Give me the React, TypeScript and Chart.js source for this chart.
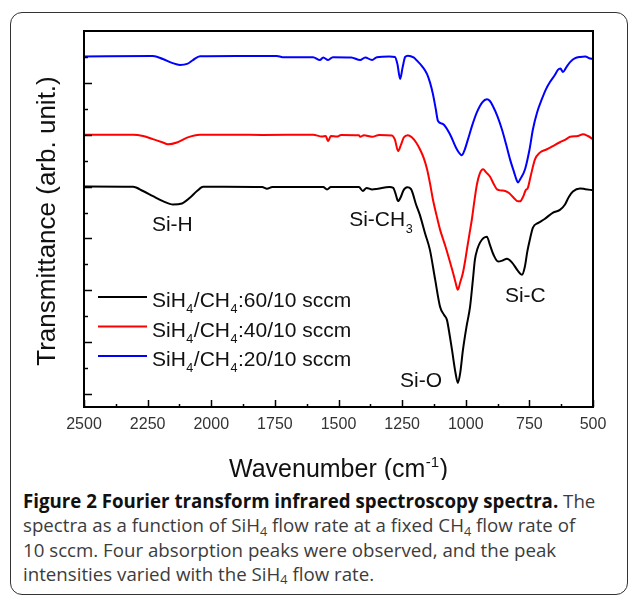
import React, { useEffect, useRef } from "react";
import { Chart, registerables } from "chart.js";

Chart.register(...registerables);

// ---------- data (wavenumber in cm^-1, transmittance in arb. units, offset per curve) ----------
const wnBlack = [2500, 2307, 2268, 2229, 2190, 2150, 2115, 2084, 2056, 2032, 1950, 1800, 1781, 1760, 1560, 1545, 1530, 1420, 1404, 1390, 1368, 1345, 1300, 1285, 1275, 1266, 1255, 1245, 1230, 1215, 1195, 1180, 1160, 1141, 1120, 1101, 1085, 1074, 1062, 1054, 1040, 1031, 1022, 1011, 997, 983, 972, 964, 954, 944, 930, 917, 905, 890, 873, 855, 838, 818, 795, 779, 768, 758, 748, 736, 715, 690, 657, 630, 610, 595, 579, 551, 530, 500];
const tBlack = [8.0, 7.99, 7.83, 7.63, 7.44, 7.31, 7.35, 7.57, 7.83, 7.99, 7.99, 7.98, 7.92, 7.98, 7.98, 7.89, 7.98, 7.98, 7.83, 7.95, 7.89, 7.92, 7.98, 7.95, 7.7, 7.44, 7.6, 7.85, 7.97, 7.9, 7.3, 6.9, 6.2, 5.57, 4.4, 3.37, 3.05, 2.86, 2.2, 1.7, 0.8, 0.43, 0.8, 1.7, 2.6, 3.37, 4.4, 5.18, 5.6, 5.84, 6.02, 6.07, 5.75, 5.35, 5.11, 5.15, 5.22, 5.07, 4.75, 4.6, 4.9, 5.5, 5.96, 6.42, 6.6, 6.75, 7.0, 7.1, 7.31, 7.6, 7.81, 7.93, 7.9, 7.86];

const wnRed = [2500, 2400, 2307, 2268, 2229, 2190, 2170, 2135, 2095, 2044, 1900, 1800, 1600, 1565, 1550, 1541, 1530, 1506, 1490, 1420, 1415, 1400, 1368, 1340, 1290, 1278, 1266, 1255, 1243, 1228, 1212, 1195, 1180, 1165, 1152, 1140, 1129, 1115, 1101, 1090, 1080, 1065, 1050, 1040, 1031, 1022, 1011, 1003, 995, 985, 976, 966, 956, 945, 932, 920, 905, 890, 877, 860, 845, 830, 810, 795, 787, 775, 765, 756, 745, 728, 710, 681, 660, 630, 610, 590, 560, 539, 520, 500];
const tRed = [10.0, 10.0, 10.0, 9.95, 9.83, 9.7, 9.63, 9.7, 9.89, 10.0, 10.0, 9.99, 10.0, 9.93, 9.95, 9.75, 9.95, 9.93, 9.99, 9.98, 9.92, 9.98, 9.92, 9.99, 9.97, 9.8, 9.37, 9.6, 9.9, 9.98, 9.9, 9.7, 9.44, 9.1, 8.67, 8.1, 7.5, 6.9, 6.34, 6.0, 5.7, 5.2, 4.68, 4.3, 4.02, 4.3, 4.68, 5.1, 5.6, 6.2, 6.73, 7.45, 8.09, 8.5, 8.67, 8.55, 8.39, 8.1, 7.89, 7.85, 7.83, 7.75, 7.55, 7.43, 7.43, 7.6, 7.85, 7.95, 8.4, 9.05, 9.3, 9.44, 9.55, 9.71, 9.8, 9.92, 9.95, 10.02, 9.95, 9.83];

const wnBlue = [2500, 2229, 2190, 2154, 2123, 2095, 2072, 2044, 1900, 1742, 1720, 1600, 1573, 1560, 1541, 1522, 1450, 1415, 1395, 1368, 1349, 1300, 1278, 1268, 1258, 1248, 1238, 1227, 1205, 1192, 1170, 1152, 1140, 1129, 1118, 1109, 1089, 1062, 1035, 1015, 1005, 991, 975, 956, 935, 917, 905, 893, 875, 858, 842, 826, 810, 800, 795, 785, 767, 750, 736, 720, 701, 685, 669, 650, 638, 628, 618, 605, 590, 570, 551, 530, 515, 500];
const tBlue = [13.02, 13.04, 12.92, 12.77, 12.69, 12.73, 12.88, 13.03, 13.04, 13.04, 12.99, 12.99, 12.88, 12.98, 12.88, 12.99, 12.98, 12.88, 12.98, 12.88, 12.99, 13.02, 13.0, 12.7, 12.15, 12.6, 13.0, 13.05, 12.98, 12.86, 12.62, 12.34, 12.0, 11.57, 11.0, 10.53, 10.41, 10.02, 9.44, 9.21, 9.4, 9.83, 10.35, 10.87, 11.25, 11.37, 11.3, 11.1, 10.7, 10.21, 9.65, 9.05, 8.55, 8.25, 8.16, 8.3, 8.67, 9.4, 10.21, 10.85, 11.37, 11.75, 12.03, 12.3, 12.5, 12.55, 12.42, 12.6, 12.8, 12.95, 13.0, 13.02, 12.95, 12.92];

const seriesRatios = ["60/10", "40/10", "20/10"];
const seriesColors = ["#000000", "#ff0000", "#0000ff"];

const xMin = 500;
const xMax = 2500;
const xStep = 250;
const yMin = -0.5;
const yMax = 14;
const yMajorTicks = [0, 2, 4, 6, 8, 10, 12];
const yMinorTicks = [1, 3, 5, 7, 9, 11, 13];

const peakNames = ["Si-H", "Si-CH", "Si-O", "Si-C"];
const peakSubs = ["", "3", "", ""];
const peakWn = [2233, 1458, 1258, 846];
const peakT = [6.27, 6.47, 0.27, 3.56];

// ---------- helpers ----------
type Part = { t: string; s?: "sub" | "sup" };
const FONT = "'Liberation Sans', Arial, sans-serif";

function partsWidth(ctx: CanvasRenderingContext2D, parts: Part[], size: number) {
  let w = 0;
  for (const p of parts) {
    ctx.font = `${p.s ? size * 0.6 : size}px ${FONT}`;
    w += ctx.measureText(p.t).width + (p.s ? 1 : 0);
  }
  return w;
}

function drawParts(ctx: CanvasRenderingContext2D, parts: Part[], x: number, baseline: number, size: number) {
  let cx = x;
  ctx.textBaseline = "alphabetic";
  ctx.textAlign = "left";
  for (const p of parts) {
    const fs = p.s ? size * 0.6 : size;
    ctx.font = `${fs}px ${FONT}`;
    let dy = 0;
    if (p.s === "sub") dy = size * 0.3;
    if (p.s === "sup") dy = -size * 0.42;
    if (p.s) cx += 0.5;
    ctx.fillText(p.t, cx, baseline + dy);
    cx += ctx.measureText(p.t).width + (p.s ? 0.5 : 0);
  }
}

const overlayPlugin = {
  id: "overlay",
  afterDraw(chart: any) {
    const { ctx, chartArea: a, scales } = chart;
    const xs = scales.x;
    const ys = scales.y;
    ctx.save();
    ctx.strokeStyle = "#000";
    ctx.lineCap = "butt";

    // inward ticks
    ctx.lineWidth = 1.5;
    const hline = (x1: number, y1: number, x2: number, y2: number) => {
      ctx.beginPath();
      ctx.moveTo(x1, y1);
      ctx.lineTo(x2, y2);
      ctx.stroke();
    };
    yMajorTicks.forEach((v) => {
      const py = Math.round(ys.getPixelForValue(v)) + 0.5;
      hline(a.left, py, a.left + 8, py);
    });
    yMinorTicks.forEach((v) => {
      const py = Math.round(ys.getPixelForValue(v)) + 0.5;
      hline(a.left, py, a.left + 4, py);
    });
    xs.ticks.forEach((t: any) => {
      const px = Math.round(xs.getPixelForValue(t.value)) + 0.5;
      hline(px, a.bottom, px, a.bottom - 7);
      const m = t.value + xStep / 2;
      if (m < xMax) {
        const pm = Math.round(xs.getPixelForValue(m)) + 0.5;
        hline(pm, a.bottom, pm, a.bottom - 3);
      }
    });

    // frame
    ctx.lineWidth = 2;
    ctx.strokeRect(a.left, a.top, a.right - a.left, a.bottom - a.top);

    // axis titles
    ctx.fillStyle = "#111";
    const xt: Part[] = [{ t: "Wavenumber (cm" }, { t: "-1", s: "sup" }, { t: ")" }];
    const wx = partsWidth(ctx, xt, 25);
    drawParts(ctx, xt, (a.left + a.right) / 2 - wx / 2, a.bottom + 70, 25);

    ctx.save();
    ctx.translate(48, (a.top + a.bottom) / 2 + 2);
    ctx.rotate(-Math.PI / 2);
    ctx.font = `26px ${FONT}`;
    ctx.textAlign = "center";
    ctx.textBaseline = "middle";
    ctx.fillText("Transmittance (arb. unit.)", 0, 0);
    ctx.restore();

    // peak labels
    ctx.fillStyle = "#111";
    peakNames.forEach((n, i) => {
      const parts: Part[] = [{ t: n }];
      if (peakSubs[i]) parts.push({ t: peakSubs[i], s: "sub" });
      drawParts(ctx, parts, xs.getPixelForValue(peakWn[i]), ys.getPixelForValue(peakT[i]), 21);
    });

    // legend
    chart.data.datasets.forEach((ds: any, i: number) => {
      const ly = a.top + 266 + i * 29.5;
      ctx.strokeStyle = ds.borderColor;
      ctx.lineWidth = 2;
      hline(a.left + 14, ly, a.left + 63, ly);
      ctx.fillStyle = "#111";
      const parts: Part[] = [
        { t: "SiH" },
        { t: "4", s: "sub" },
        { t: "/CH" },
        { t: "4", s: "sub" },
        { t: ":" + seriesRatios[i] + " sccm" },
      ];
      drawParts(ctx, parts, a.left + 68, ly + 10, 21);
    });
    ctx.restore();
  },
};

export default function App() {
  const ref = useRef<HTMLCanvasElement>(null);

  useEffect(() => {
    const mk = (wn: number[], t: number[]) => wn.map((x, i) => ({ x, y: t[i] }));
    const chart = new Chart(ref.current as HTMLCanvasElement, {
      type: "line",
      data: {
        datasets: [
          { label: "SiH4/CH4:" + seriesRatios[0] + " sccm", data: mk(wnBlack, tBlack), borderColor: seriesColors[0] },
          { label: "SiH4/CH4:" + seriesRatios[1] + " sccm", data: mk(wnRed, tRed), borderColor: seriesColors[1] },
          { label: "SiH4/CH4:" + seriesRatios[2] + " sccm", data: mk(wnBlue, tBlue), borderColor: seriesColors[2] },
        ].map((d) => ({
          ...d,
          borderWidth: 2,
          pointRadius: 0,
          fill: false,
          cubicInterpolationMode: "monotone" as const,
        })),
      },
      options: {
        animation: false,
        responsive: false,
        devicePixelRatio: 1,
        layout: { padding: { left: 84, top: 31, right: 36, bottom: 0 } },
        plugins: { legend: { display: false }, tooltip: { enabled: false } },
        scales: {
          x: {
            type: "linear",
            reverse: true,
            min: xMin,
            max: xMax,
            grid: { display: false, drawTicks: false },
            border: { display: false },
            ticks: {
              stepSize: xStep,
              autoSkip: false,
              maxRotation: 0,
              padding: 8,
              color: "#333",
              font: { family: "'Liberation Sans', Arial, sans-serif", size: 16 },
              callback: (v: any) => String(v),
            },
            afterFit: (s: any) => {
              s.height = 73;
            },
          },
          y: {
            type: "linear",
            display: false,
            min: yMin,
            max: yMax,
          },
        },
      },
      plugins: [overlayPlugin],
    } as any);
    return () => chart.destroy();
  }, []);

  const sub: React.CSSProperties = { fontSize: "0.68em", position: "relative", top: "0.28em", lineHeight: 0 };

  return (
    <div style={{ position: "absolute", left: 0, top: 0, width: 629, height: 596, overflow: "hidden", background: "#fff" }}>
      <div
        style={{
          position: "absolute",
          left: 10,
          top: 12,
          width: 618,
          height: 583,
          border: "1.5px solid #333",
          borderRadius: 12,
          boxSizing: "border-box",
        }}
      />
      <canvas ref={ref} width={629} height={480} style={{ position: "absolute", left: 0, top: 0 }} />
      <div
        style={{
          position: "absolute",
          left: 23,
          top: 489,
          fontFamily: "'Open Sans', sans-serif",
          fontSize: 18.7,
          lineHeight: "24.3px",
          color: "#3c3c3c",
          whiteSpace: "nowrap",
        }}
      >
        <div>
          <b style={{ color: "#111" }}>Figure 2 Fourier transform infrared spectroscopy spectra.</b> The
        </div>
        <div>
          spectra as a function of SiH<span style={sub}>4</span> flow rate at a fixed CH<span style={sub}>4</span> flow rate of
        </div>
        <div>10 sccm. Four absorption peaks were observed, and the peak</div>
        <div>
          intensities varied with the SiH<span style={sub}>4</span> flow rate.
        </div>
      </div>
    </div>
  );
}
